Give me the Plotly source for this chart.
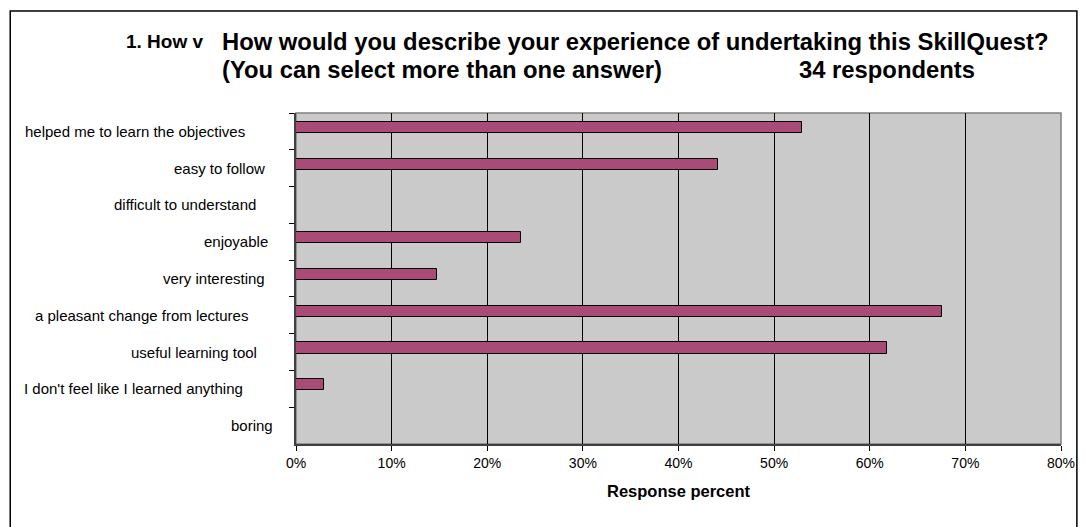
import plotly.graph_objects as go

# ---- data ----
categories = [
    "helped me to learn the objectives",
    "easy to follow",
    "difficult to understand",
    "enjoyable",
    "very interesting",
    "a pleasant change from lectures",
    "useful learning tool",
    "I don't feel like I learned anything",
    "boring",
]
response_pct = [0.529, 0.441, 0.0, 0.235, 0.147, 0.676, 0.618, 0.029, 0.0]
x_tick_vals = [0, 0.1, 0.2, 0.3, 0.4, 0.5, 0.6, 0.7, 0.8]
x_tick_text = ["0%", "10%", "20%", "30%", "40%", "50%", "60%", "70%", "80%"]
title_prefix = "1. How v"
title_line1 = "How would you describe your experience of undertaking this SkillQuest?"
title_line2a = "(You can select more than one answer)"
title_line2b = "34 respondents"
x_title = "Response percent"

# ---- style / layout ----
W, H = 1087, 527
ML, MR, MT, MB = 296, 20, 113, 83
PW, PH = W - ML - MR, H - MT - MB
label_right_px = [247, 267, 258, 270, 267, 250, 259, 245, 275]  # right edge of each label
FONT = "Liberation Sans, Arial, sans-serif"


def px_x(px):
    return (px - ML) / PW


def px_y(py):
    return (H - MB - py) / PH


fig = go.Figure()
fig.add_trace(go.Bar(
    x=response_pct, y=categories, orientation="h",
    marker=dict(color="#AA4A77", line=dict(color="black", width=1)),
    width=0.3, offset=-0.26, hoverinfo="skip",
))

annotations = []
for cat, rpx in zip(categories, label_right_px):
    annotations.append(dict(
        x=0, xref="paper", y=cat, yref="y", xanchor="right", yanchor="middle",
        xshift=rpx - ML, text=cat, showarrow=False,
        font=dict(family=FONT, size=15, color="black"),
    ))
annotations += [
    dict(x=px_x(123), y=px_y(41), xref="paper", yref="paper", xanchor="left", yanchor="middle",
         text="<b>%s</b>" % title_prefix, showarrow=False,
         font=dict(family=FONT, size=19, color="black")),
    dict(x=px_x(219), y=px_y(41.5), xref="paper", yref="paper", xanchor="left", yanchor="middle",
         text="<b>%s</b>" % title_line1, showarrow=False,
         font=dict(family=FONT, size=23.8, color="black")),
    dict(x=px_x(219), y=px_y(69.5), xref="paper", yref="paper", xanchor="left", yanchor="middle",
         text="<b>%s</b>" % title_line2a, showarrow=False,
         font=dict(family=FONT, size=23.8, color="black")),
    dict(x=px_x(801), y=px_y(69.5), xref="paper", yref="paper", xanchor="left", yanchor="middle",
         text="<b>%s</b>" % title_line2b, showarrow=False,
         font=dict(family=FONT, size=23.8, color="black")),
]

shapes = [
    # outer chart border
    dict(type="rect", xref="paper", yref="paper", x0=px_x(8), x1=px_x(1083), y0=px_y(528), y1=px_y(11),
         line=dict(color="black", width=1.5), fillcolor="rgba(0,0,0,0)", layer="above"),
    # plot frame (top/right)
    dict(type="rect", xref="paper", yref="paper", x0=0, x1=1, y0=0, y1=1,
         line=dict(color="#808080", width=1.5), fillcolor="rgba(0,0,0,0)", layer="below"),
]

fig.update_layout(
    width=W, height=H,
    margin=dict(l=ML, r=MR, t=MT, b=MB, pad=0),
    paper_bgcolor="white", plot_bgcolor="#CACACA",
    showlegend=False, bargap=0,
    annotations=annotations, shapes=shapes,
    font=dict(family=FONT, size=14, color="black"),
)
fig.update_xaxes(
    range=[0, 0.8], tickvals=x_tick_vals, ticktext=x_tick_text,
    showgrid=True, gridcolor="black", gridwidth=1,
    ticks="outside", ticklen=5, tickcolor="black",
    showline=True, linecolor="#404040", linewidth=1.5,
    tickfont=dict(family=FONT, size=14, color="black"),
    title=dict(text="<b>%s</b>" % x_title, standoff=16,
               font=dict(family=FONT, size=16.5, color="black")),
    zeroline=False, fixedrange=True,
)
fig.update_yaxes(
    type="category", autorange="reversed",
    tickson="boundaries", ticks="outside", ticklen=5, tickcolor="black",
    showticklabels=False, showgrid=False,
    showline=True, linecolor="#404040", linewidth=1.5,
    zeroline=False, fixedrange=True,
)

fig.write_html(
    "out.html",
    config={"displayModeBar": False},
    post_script=("document.documentElement.style.margin='0';"
                 "document.body.style.margin='0';"
                 "document.body.style.overflow='hidden';"
                 "document.documentElement.style.overflow='hidden';"
                 "var gdiv=document.getElementById('{plot_id}');"
                 "gdiv.style.position='fixed';gdiv.style.left='0px';gdiv.style.top='0px';"),
)
